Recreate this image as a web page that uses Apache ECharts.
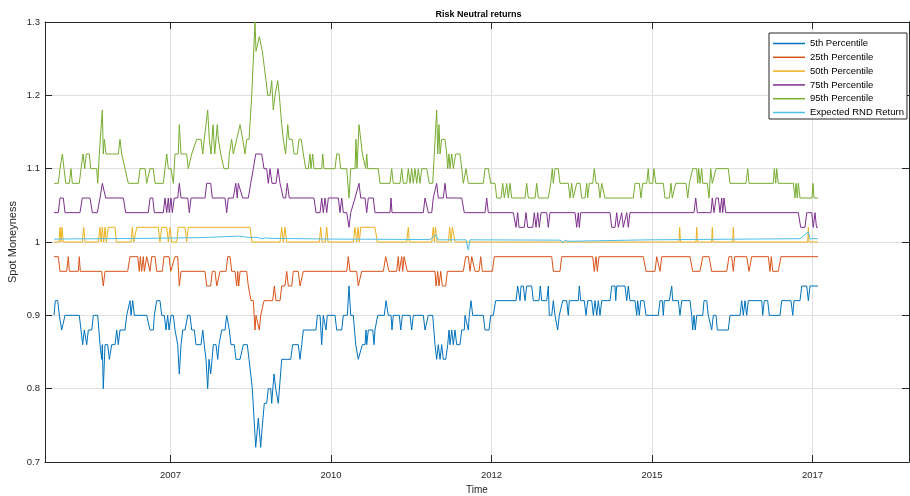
<!DOCTYPE html>
<html><head><meta charset="utf-8">
<script src="https://cdn.jsdelivr.net/npm/echarts@6/dist/echarts.min.js"></script>
<style>html,body{margin:0;padding:0;background:#fff}#c{width:910px;height:496px}</style>
</head><body><div id="c"></div>
<script>
// ---- data (time in decimal years, values = spot moneyness) ----
const xTickValues = [2007.5, 2010, 2012.5, 2015, 2017.5];
const xTickLabels = ['2007', '2010', '2012', '2015', '2017'];
const seriesNames = ['5th Percentile', '25th Percentile', '50th Percentile', '75th Percentile', '95th Percentile', 'Expected RND Return'];

const p95 = [[2005.685,1.08],[2005.752,1.08],[2005.779,1.10],[2005.815,1.12],[2005.841,1.10],[2005.868,1.08],[2005.924,1.08],[2005.950,1.10],[2005.970,1.08],[2006.079,1.08],[2006.106,1.10],[2006.137,1.12],[2006.164,1.10],[2006.188,1.12],[2006.235,1.12],[2006.257,1.10],[2006.350,1.10],[2006.366,1.08],[2006.391,1.12],[2006.438,1.18],[2006.453,1.12],[2006.469,1.14],[2006.495,1.12],[2006.687,1.12],[2006.713,1.14],[2006.740,1.12],[2006.791,1.10],[2006.843,1.08],[2006.998,1.08],[2007.025,1.10],[2007.103,1.10],[2007.129,1.08],[2007.154,1.08],[2007.181,1.10],[2007.232,1.10],[2007.259,1.08],[2007.388,1.08],[2007.414,1.10],[2007.441,1.12],[2007.466,1.10],[2007.508,1.10],[2007.544,1.08],[2007.570,1.12],[2007.621,1.12],[2007.637,1.16],[2007.664,1.12],[2007.752,1.12],[2007.777,1.10],[2007.804,1.10],[2007.830,1.12],[2007.908,1.14],[2007.975,1.14],[2008.002,1.12],[2008.026,1.14],[2008.079,1.18],[2008.104,1.14],[2008.131,1.12],[2008.162,1.16],[2008.188,1.12],[2008.229,1.16],[2008.245,1.14],[2008.282,1.12],[2008.333,1.10],[2008.400,1.10],[2008.416,1.12],[2008.453,1.14],[2008.478,1.12],[2008.531,1.14],[2008.583,1.16],[2008.625,1.14],[2008.660,1.12],[2008.687,1.14],[2008.723,1.14],[2008.765,1.20],[2008.816,1.30],[2008.832,1.26],[2008.858,1.26],[2008.883,1.28],[2008.910,1.28],[2008.930,1.26],[2008.956,1.26],[2008.988,1.22],[2009.014,1.20],[2009.050,1.20],[2009.076,1.22],[2009.101,1.18],[2009.128,1.20],[2009.170,1.22],[2009.195,1.20],[2009.232,1.16],[2009.257,1.14],[2009.294,1.12],[2009.326,1.16],[2009.346,1.14],[2009.397,1.14],[2009.424,1.12],[2009.475,1.12],[2009.502,1.14],[2009.537,1.14],[2009.569,1.12],[2009.606,1.10],[2009.646,1.10],[2009.673,1.12],[2009.688,1.10],[2009.715,1.12],[2009.735,1.10],[2009.855,1.10],[2009.871,1.12],[2009.891,1.10],[2010.062,1.10],[2010.089,1.12],[2010.125,1.12],[2010.151,1.10],[2010.245,1.10],[2010.280,1.06],[2010.307,1.10],[2010.374,1.10],[2010.389,1.14],[2010.405,1.10],[2010.436,1.16],[2010.463,1.14],[2010.488,1.12],[2010.519,1.12],[2010.540,1.10],[2010.556,1.12],[2010.572,1.10],[2010.737,1.10],[2010.763,1.08],[2010.919,1.08],[2010.945,1.10],[2010.970,1.08],[2011.075,1.08],[2011.101,1.10],[2011.126,1.08],[2011.179,1.08],[2011.204,1.10],[2011.231,1.08],[2011.257,1.10],[2011.282,1.08],[2011.308,1.10],[2011.335,1.08],[2011.360,1.10],[2011.386,1.08],[2011.413,1.10],[2011.491,1.10],[2011.531,1.08],[2011.584,1.08],[2011.609,1.12],[2011.620,1.12],[2011.646,1.18],[2011.662,1.12],[2011.682,1.16],[2011.698,1.12],[2011.724,1.14],[2011.776,1.14],[2011.802,1.12],[2011.818,1.10],[2011.838,1.12],[2011.854,1.10],[2011.880,1.12],[2011.905,1.10],[2011.942,1.12],[2012.009,1.12],[2012.036,1.10],[2012.061,1.08],[2012.103,1.10],[2012.139,1.08],[2012.372,1.08],[2012.399,1.10],[2012.450,1.10],[2012.488,1.08],[2012.555,1.08],[2012.581,1.06],[2012.648,1.06],[2012.674,1.08],[2012.699,1.06],[2012.737,1.08],[2012.762,1.06],[2012.788,1.08],[2012.815,1.06],[2013.022,1.06],[2013.048,1.08],[2013.073,1.06],[2013.178,1.06],[2013.204,1.08],[2013.229,1.06],[2013.385,1.06],[2013.422,1.08],[2013.447,1.10],[2013.463,1.08],[2013.489,1.10],[2013.540,1.10],[2013.567,1.08],[2013.696,1.08],[2013.723,1.06],[2013.749,1.08],[2013.774,1.06],[2013.801,1.06],[2013.827,1.08],[2013.879,1.08],[2013.905,1.06],[2013.956,1.06],[2013.983,1.08],[2013.998,1.06],[2014.023,1.08],[2014.076,1.08],[2014.101,1.10],[2014.128,1.08],[2014.164,1.08],[2014.190,1.06],[2014.217,1.08],[2014.241,1.08],[2014.268,1.06],[2014.709,1.06],[2014.735,1.08],[2014.802,1.08],[2014.829,1.06],[2014.855,1.08],[2014.917,1.08],[2014.942,1.10],[2014.958,1.08],[2015.011,1.08],[2015.031,1.10],[2015.058,1.08],[2015.176,1.08],[2015.202,1.06],[2015.269,1.06],[2015.296,1.08],[2015.316,1.06],[2015.347,1.06],[2015.369,1.08],[2015.530,1.08],[2015.556,1.06],[2015.581,1.08],[2015.607,1.08],[2015.634,1.10],[2015.696,1.10],[2015.712,1.08],[2015.727,1.10],[2015.748,1.08],[2015.774,1.10],[2015.790,1.08],[2015.861,1.08],[2015.888,1.06],[2015.914,1.10],[2015.939,1.08],[2015.970,1.08],[2015.997,1.10],[2016.188,1.10],[2016.215,1.08],[2016.464,1.08],[2016.491,1.10],[2016.511,1.08],[2016.889,1.08],[2016.905,1.10],[2016.927,1.08],[2016.942,1.10],[2016.967,1.08],[2017.201,1.08],[2017.227,1.06],[2017.243,1.08],[2017.263,1.06],[2017.279,1.08],[2017.305,1.06],[2017.492,1.06],[2017.508,1.08],[2017.523,1.06],[2017.586,1.06]];

const p75 = [[2005.685,1.04],[2005.752,1.04],[2005.779,1.06],[2005.830,1.06],[2005.857,1.04],[2006.090,1.04],[2006.126,1.06],[2006.246,1.06],[2006.282,1.04],[2006.360,1.04],[2006.402,1.06],[2006.438,1.08],[2006.464,1.08],[2006.491,1.06],[2006.765,1.06],[2006.802,1.04],[2007.154,1.04],[2007.181,1.06],[2007.223,1.06],[2007.248,1.04],[2007.388,1.04],[2007.414,1.06],[2007.441,1.04],[2007.466,1.06],[2007.481,1.04],[2007.508,1.06],[2007.528,1.04],[2007.559,1.06],[2007.612,1.06],[2007.637,1.08],[2007.664,1.06],[2007.768,1.06],[2007.793,1.04],[2007.819,1.06],[2008.037,1.06],[2008.064,1.08],[2008.126,1.08],[2008.151,1.06],[2008.349,1.06],[2008.375,1.04],[2008.400,1.06],[2008.478,1.06],[2008.516,1.08],[2008.540,1.06],[2008.556,1.08],[2008.583,1.08],[2008.625,1.06],[2008.712,1.06],[2008.749,1.08],[2008.790,1.10],[2008.827,1.12],[2008.921,1.12],[2008.956,1.10],[2008.998,1.10],[2009.023,1.08],[2009.050,1.10],[2009.081,1.08],[2009.143,1.08],[2009.174,1.10],[2009.206,1.08],[2009.257,1.06],[2009.294,1.06],[2009.319,1.08],[2009.350,1.06],[2009.735,1.06],[2009.766,1.04],[2009.829,1.04],[2009.855,1.06],[2009.880,1.04],[2009.907,1.06],[2009.933,1.04],[2009.958,1.06],[2010.114,1.06],[2010.140,1.04],[2010.167,1.06],[2010.192,1.04],[2010.245,1.04],[2010.280,1.02],[2010.307,1.04],[2010.374,1.06],[2010.436,1.08],[2010.463,1.06],[2010.530,1.06],[2010.556,1.04],[2010.581,1.06],[2010.659,1.06],[2010.685,1.04],[2010.919,1.04],[2010.935,1.06],[2010.950,1.04],[2011.438,1.04],[2011.464,1.06],[2011.491,1.06],[2011.516,1.04],[2011.569,1.04],[2011.593,1.06],[2011.620,1.06],[2011.646,1.08],[2011.671,1.06],[2011.749,1.06],[2011.776,1.08],[2011.802,1.06],[2012.036,1.06],[2012.076,1.04],[2012.399,1.04],[2012.425,1.06],[2012.450,1.04],[2012.840,1.04],[2012.882,1.02],[2012.908,1.04],[2012.928,1.02],[2013.011,1.02],[2013.037,1.04],[2013.064,1.02],[2013.142,1.02],[2013.167,1.04],[2013.193,1.02],[2013.220,1.04],[2013.245,1.02],[2013.271,1.04],[2013.360,1.04],[2013.385,1.02],[2013.411,1.04],[2013.801,1.04],[2013.827,1.02],[2013.852,1.04],[2013.868,1.02],[2013.889,1.04],[2014.346,1.04],[2014.372,1.02],[2014.424,1.02],[2014.450,1.04],[2014.475,1.02],[2014.502,1.02],[2014.528,1.04],[2014.553,1.02],[2014.606,1.04],[2014.631,1.02],[2014.657,1.04],[2015.654,1.04],[2015.681,1.06],[2015.706,1.04],[2015.919,1.04],[2015.939,1.06],[2015.966,1.04],[2015.997,1.06],[2016.033,1.06],[2016.059,1.04],[2016.086,1.06],[2016.101,1.04],[2016.121,1.06],[2016.148,1.04],[2017.279,1.04],[2017.316,1.02],[2017.383,1.02],[2017.410,1.04],[2017.488,1.04],[2017.512,1.02],[2017.539,1.04],[2017.562,1.02],[2017.586,1.02]];

const p50 = [[2005.685,1.00],[2005.763,1.00],[2005.779,1.02],[2005.794,1.00],[2005.810,1.02],[2005.830,1.00],[2006.126,1.00],[2006.148,1.02],[2006.168,1.00],[2006.375,1.00],[2006.402,1.02],[2006.417,1.00],[2006.438,1.02],[2006.460,1.00],[2006.480,1.02],[2006.500,1.00],[2006.531,1.02],[2006.636,1.02],[2006.656,1.00],[2006.885,1.00],[2006.905,1.02],[2006.927,1.00],[2006.947,1.00],[2006.974,1.02],[2007.310,1.02],[2007.336,1.00],[2007.363,1.02],[2007.441,1.02],[2007.466,1.00],[2007.492,1.02],[2007.519,1.00],[2007.597,1.00],[2007.621,1.02],[2007.726,1.02],[2007.752,1.00],[2007.777,1.02],[2008.738,1.02],[2008.769,1.00],[2009.206,1.00],[2009.232,1.02],[2009.257,1.00],[2009.283,1.02],[2009.310,1.00],[2009.818,1.00],[2009.840,1.02],[2009.860,1.00],[2009.911,1.00],[2009.933,1.02],[2009.953,1.00],[2010.347,1.00],[2010.374,1.02],[2010.400,1.00],[2010.421,1.02],[2010.441,1.00],[2010.463,1.02],[2010.685,1.02],[2010.721,1.00],[2011.179,1.00],[2011.204,1.02],[2011.220,1.00],[2011.569,1.00],[2011.593,1.02],[2011.609,1.00],[2011.628,1.02],[2011.651,1.00],[2011.827,1.00],[2011.849,1.02],[2011.869,1.00],[2011.889,1.02],[2011.916,1.02],[2011.936,1.00],[2015.421,1.00],[2015.431,1.02],[2015.444,1.00],[2015.685,1.00],[2015.696,1.02],[2015.709,1.00],[2015.930,1.00],[2015.939,1.02],[2015.950,1.00],[2016.257,1.00],[2016.266,1.02],[2016.277,1.00],[2017.425,1.00],[2017.435,1.02],[2017.445,1.00],[2017.586,1.00]];

const p25 = [[2005.685,0.98],[2005.752,0.98],[2005.779,0.96],[2005.883,0.96],[2005.908,0.98],[2005.924,0.96],[2006.064,0.96],[2006.079,0.98],[2006.095,0.96],[2006.428,0.96],[2006.453,0.94],[2006.480,0.96],[2006.833,0.96],[2006.869,0.98],[2006.989,0.98],[2007.014,0.96],[2007.030,0.98],[2007.051,0.96],[2007.076,0.98],[2007.092,0.96],[2007.129,0.98],[2007.154,0.98],[2007.181,0.96],[2007.207,0.98],[2007.259,0.98],[2007.285,0.96],[2007.372,0.96],[2007.399,0.98],[2007.477,0.98],[2007.503,0.96],[2007.528,0.96],[2007.570,0.98],[2007.612,0.98],[2007.637,0.94],[2007.664,0.96],[2008.037,0.96],[2008.064,0.94],[2008.126,0.94],[2008.151,0.96],[2008.193,0.96],[2008.220,0.94],[2008.245,0.94],[2008.271,0.96],[2008.364,0.96],[2008.391,0.98],[2008.427,0.98],[2008.453,0.96],[2008.505,0.96],[2008.531,0.94],[2008.547,0.96],[2008.562,0.94],[2008.583,0.96],[2008.687,0.96],[2008.712,0.94],[2008.754,0.92],[2008.790,0.92],[2008.816,0.88],[2008.832,0.90],[2008.858,0.90],[2008.883,0.88],[2008.905,0.90],[2008.930,0.90],[2008.956,0.92],[2009.092,0.92],[2009.117,0.94],[2009.143,0.92],[2009.206,0.92],[2009.232,0.94],[2009.283,0.94],[2009.310,0.96],[2009.335,0.94],[2009.388,0.94],[2009.413,0.96],[2009.491,0.96],[2009.517,0.94],[2009.544,0.94],[2009.569,0.96],[2010.245,0.96],[2010.269,0.98],[2010.296,0.96],[2010.400,0.96],[2010.425,0.94],[2010.452,0.94],[2010.478,0.96],[2010.815,0.96],[2010.852,0.98],[2010.877,0.98],[2010.903,0.96],[2011.023,0.96],[2011.048,0.98],[2011.064,0.96],[2011.101,0.98],[2011.117,0.96],[2011.137,0.98],[2011.164,0.98],[2011.188,0.96],[2011.620,0.96],[2011.636,0.94],[2011.662,0.96],[2011.682,0.94],[2011.709,0.96],[2011.734,0.94],[2011.787,0.94],[2011.812,0.96],[2012.061,0.96],[2012.098,0.98],[2012.139,0.98],[2012.165,0.96],[2012.192,0.98],[2012.217,0.98],[2012.243,0.96],[2012.305,0.96],[2012.332,0.98],[2012.357,0.96],[2012.512,0.96],[2012.544,0.98],[2013.438,0.98],[2013.463,0.96],[2013.567,0.96],[2013.593,0.98],[2014.076,0.98],[2014.101,0.96],[2014.128,0.98],[2014.148,0.96],[2014.174,0.98],[2014.864,0.98],[2014.907,0.96],[2015.047,0.96],[2015.073,0.98],[2015.098,0.98],[2015.125,0.96],[2015.151,0.98],[2015.592,0.98],[2015.634,0.96],[2015.748,0.96],[2015.790,0.98],[2015.888,0.98],[2015.930,0.96],[2016.164,0.96],[2016.199,0.98],[2016.241,0.98],[2016.266,0.96],[2016.288,0.98],[2016.475,0.98],[2016.511,0.96],[2016.553,0.98],[2016.812,0.98],[2016.838,0.96],[2016.858,0.98],[2016.880,0.96],[2016.967,0.96],[2017.009,0.98],[2017.586,0.98]];

const p5 = [[2005.685,0.90],[2005.706,0.92],[2005.743,0.92],[2005.768,0.90],[2005.805,0.88],[2005.830,0.88],[2005.857,0.90],[2006.079,0.90],[2006.106,0.88],[2006.132,0.86],[2006.157,0.88],[2006.195,0.86],[2006.220,0.88],[2006.273,0.88],[2006.298,0.90],[2006.366,0.90],[2006.402,0.86],[2006.428,0.84],[2006.438,0.86],[2006.453,0.80],[2006.480,0.86],[2006.522,0.86],[2006.547,0.84],[2006.584,0.86],[2006.636,0.86],[2006.662,0.88],[2006.687,0.86],[2006.713,0.88],[2006.791,0.88],[2006.818,0.90],[2006.869,0.92],[2006.885,0.90],[2006.911,0.92],[2006.936,0.90],[2007.129,0.90],[2007.181,0.88],[2007.232,0.88],[2007.248,0.90],[2007.285,0.92],[2007.336,0.92],[2007.363,0.90],[2007.403,0.90],[2007.430,0.88],[2007.456,0.90],[2007.477,0.88],[2007.508,0.90],[2007.544,0.90],[2007.570,0.88],[2007.612,0.86],[2007.637,0.82],[2007.664,0.86],[2007.690,0.88],[2007.726,0.88],[2007.768,0.90],[2007.804,0.90],[2007.830,0.88],[2007.871,0.88],[2007.897,0.86],[2007.975,0.86],[2008.002,0.88],[2008.026,0.86],[2008.053,0.84],[2008.079,0.80],[2008.100,0.84],[2008.126,0.82],[2008.167,0.86],[2008.209,0.86],[2008.235,0.84],[2008.255,0.86],[2008.298,0.88],[2008.349,0.88],[2008.375,0.90],[2008.400,0.90],[2008.416,0.88],[2008.442,0.86],[2008.494,0.86],[2008.520,0.84],[2008.583,0.84],[2008.634,0.86],[2008.696,0.86],[2008.723,0.84],[2008.774,0.80],[2008.790,0.80],[2008.827,0.72],[2008.868,0.76],[2008.905,0.72],[2008.921,0.74],[2008.936,0.74],[2008.961,0.78],[2008.998,0.78],[2009.023,0.80],[2009.061,0.80],[2009.076,0.78],[2009.112,0.82],[2009.139,0.80],[2009.179,0.78],[2009.195,0.78],[2009.232,0.84],[2009.372,0.84],[2009.403,0.86],[2009.491,0.86],[2009.517,0.84],[2009.544,0.86],[2009.569,0.88],[2009.766,0.88],[2009.787,0.90],[2009.829,0.90],[2009.855,0.86],[2009.880,0.90],[2009.922,0.88],[2009.942,0.90],[2010.062,0.90],[2010.089,0.88],[2010.167,0.88],[2010.192,0.90],[2010.254,0.90],[2010.280,0.94],[2010.307,0.90],[2010.347,0.90],[2010.385,0.86],[2010.425,0.84],[2010.452,0.84],[2010.488,0.86],[2010.530,0.86],[2010.545,0.88],[2010.556,0.86],[2010.581,0.88],[2010.650,0.88],[2010.670,0.86],[2010.685,0.88],[2010.701,0.88],[2010.727,0.90],[2010.830,0.90],[2010.857,0.92],[2010.893,0.90],[2010.935,0.90],[2010.950,0.88],[2010.970,0.90],[2011.064,0.90],[2011.086,0.88],[2011.111,0.90],[2011.231,0.90],[2011.257,0.88],[2011.282,0.90],[2011.438,0.90],[2011.464,0.88],[2011.491,0.88],[2011.516,0.90],[2011.584,0.90],[2011.620,0.86],[2011.646,0.84],[2011.671,0.86],[2011.698,0.84],[2011.724,0.86],[2011.749,0.84],[2011.787,0.84],[2011.818,0.86],[2011.838,0.88],[2011.854,0.86],[2011.880,0.88],[2011.905,0.86],[2011.931,0.88],[2011.958,0.86],[2012.009,0.86],[2012.036,0.88],[2012.076,0.88],[2012.087,0.90],[2012.114,0.90],[2012.139,0.88],[2012.154,0.90],[2012.181,0.92],[2012.207,0.90],[2012.372,0.90],[2012.399,0.88],[2012.461,0.88],[2012.488,0.90],[2012.528,0.90],[2012.565,0.92],[2012.882,0.92],[2012.908,0.94],[2012.944,0.92],[2012.960,0.94],[2012.995,0.94],[2013.022,0.92],[2013.048,0.94],[2013.126,0.94],[2013.151,0.92],[2013.240,0.92],[2013.260,0.94],[2013.282,0.92],[2013.360,0.92],[2013.385,0.94],[2013.400,0.90],[2013.438,0.90],[2013.463,0.92],[2013.489,0.90],[2013.516,0.90],[2013.531,0.88],[2013.556,0.90],[2013.583,0.90],[2013.609,0.92],[2013.671,0.92],[2013.696,0.90],[2013.712,0.92],[2013.852,0.92],[2013.868,0.94],[2013.889,0.92],[2013.945,0.92],[2013.972,0.90],[2013.998,0.92],[2014.061,0.92],[2014.086,0.90],[2014.112,0.92],[2014.139,0.90],[2014.164,0.92],[2014.190,0.90],[2014.217,0.92],[2014.346,0.92],[2014.372,0.94],[2014.424,0.94],[2014.435,0.92],[2014.450,0.94],[2014.579,0.94],[2014.606,0.92],[2014.631,0.94],[2014.657,0.92],[2014.735,0.92],[2014.762,0.90],[2014.777,0.92],[2014.802,0.90],[2014.824,0.92],[2014.875,0.92],[2014.907,0.90],[2015.098,0.90],[2015.125,0.92],[2015.160,0.92],[2015.176,0.90],[2015.192,0.92],[2015.269,0.92],[2015.307,0.94],[2015.322,0.92],[2015.410,0.92],[2015.436,0.90],[2015.463,0.92],[2015.592,0.92],[2015.618,0.90],[2015.634,0.88],[2015.654,0.90],[2015.674,0.88],[2015.696,0.90],[2015.790,0.90],[2015.810,0.92],[2015.852,0.92],[2015.877,0.90],[2015.903,0.90],[2015.930,0.88],[2015.955,0.90],[2015.997,0.90],[2016.017,0.88],[2016.188,0.88],[2016.215,0.90],[2016.371,0.90],[2016.397,0.92],[2016.422,0.90],[2016.449,0.92],[2016.475,0.90],[2016.500,0.92],[2016.709,0.92],[2016.724,0.90],[2016.749,0.92],[2016.802,0.92],[2016.827,0.90],[2016.994,0.90],[2017.020,0.92],[2017.165,0.92],[2017.192,0.90],[2017.212,0.92],[2017.305,0.92],[2017.332,0.94],[2017.410,0.94],[2017.435,0.92],[2017.461,0.94],[2017.586,0.94]];

const expRND = [[2005.685,1.004],[2006.402,1.0045],[2007.181,1.005],[2007.960,1.006],[2008.583,1.008],[2008.660,1.007],[2008.738,1.006],[2008.785,1.0065],[2008.816,1.005],[2008.863,1.006],[2008.925,1.0045],[2008.972,1.0055],[2009.050,1.005],[2009.362,1.0047],[2009.984,1.004],[2010.763,1.0037],[2011.542,1.0033],[2011.636,1.010],[2011.667,1.003],[2012.103,1.003],[2012.139,0.989],[2012.165,1.003],[2013.567,1.0025],[2013.618,0.9995],[2013.645,1.0025],[2013.692,1.001],[2013.723,1.0025],[2014.969,1.003],[2015.748,1.0035],[2016.526,1.004],[2017.305,1.0045],[2017.435,1.014],[2017.461,1.0045],[2017.586,1.0045]];

const seriesData = [p5, p25, p50, p75, p95, expRND];
const seriesColors = ['#0072BD', '#D95319', '#EDB120', '#7E2F8E', '#77AC30', '#4DBEEE'];

// ---- chart ----
const chart = echarts.init(document.getElementById('c'), null, {renderer: 'canvas', width: 910, height: 496});
const axisColor = '#262626';
const gridColor = '#dfdfdf';
const font = 'Liberation Sans, Arial, Helvetica, sans-serif';
const xMin = 2005.545, xMax = 2019.003;

const fmtY = v => String(Math.round(v * 10) / 10);
const fmtX = v => { const i = xTickValues.findIndex(t => Math.abs(t - v) < 1e-6); return i >= 0 ? xTickLabels[i] : ''; };

const option = {
  animation: false,
  backgroundColor: '#ffffff',
  textStyle: {fontFamily: font},
  title: {
    text: 'Risk Neutral returns', left: 473.5, top: 5, textAlign: 'center',
    textStyle: {fontSize: 9, fontWeight: 'bold', color: '#000', fontFamily: font}
  },
  legend: {
    orient: 'vertical', left: 769, top: 33,
    backgroundColor: '#fff', borderColor: axisColor, borderWidth: 1, borderRadius: 0,
    padding: [5, 3, 1, 4], itemWidth: 32, itemHeight: 1.5, itemGap: 2.8, icon: 'rect',
    textStyle: {fontSize: 9.5, lineHeight: 11, color: '#000', fontFamily: font},
    data: seriesNames
  },
  grid: {left: 45, right: 1, top: 22, bottom: 34, containLabel: false, outerBoundsMode: 'none'},
  xAxis: [{
    type: 'value', min: xMin, max: xMax, position: 'bottom',
    name: 'Time', nameLocation: 'middle', nameGap: 23.5, nameMoveOverlap: false,
    nameTextStyle: {fontSize: 10, color: axisColor, fontFamily: font},
    axisLine: {show: true, onZero: false, lineStyle: {color: axisColor, width: 1}},
    axisTick: {show: true, inside: true, length: 7, customValues: xTickValues, lineStyle: {color: axisColor}},
    axisLabel: {show: true, customValues: xTickValues, formatter: fmtX, color: axisColor, fontSize: 9.5, margin: 8, fontFamily: font},
    splitLine: {show: true, lineStyle: {color: gridColor, width: 1}}
  }, {
    type: 'value', min: xMin, max: xMax, position: 'top',
    axisLine: {show: true, onZero: false, lineStyle: {color: axisColor, width: 1}},
    axisTick: {show: true, inside: true, length: 7, customValues: xTickValues, lineStyle: {color: axisColor}},
    axisLabel: {show: false},
    splitLine: {show: false}
  }],
  yAxis: [{
    type: 'value', min: 0.7, max: 1.3, interval: 0.1, position: 'left',
    name: 'Spot Moneyness', nameLocation: 'middle', nameGap: 27, nameMoveOverlap: false,
    nameTextStyle: {fontSize: 11, color: axisColor, fontFamily: font},
    axisLine: {show: true, onZero: false, lineStyle: {color: axisColor, width: 1}},
    axisTick: {show: true, inside: true, length: 7, lineStyle: {color: axisColor}},
    axisLabel: {formatter: fmtY, color: axisColor, fontSize: 9.5, margin: 5, fontFamily: font},
    splitLine: {show: true, lineStyle: {color: gridColor, width: 1}}
  }, {
    type: 'value', min: 0.7, max: 1.3, interval: 0.1, position: 'right',
    axisLine: {show: true, onZero: false, lineStyle: {color: axisColor, width: 1}},
    axisTick: {show: true, inside: true, length: 7, lineStyle: {color: axisColor}},
    axisLabel: {show: false},
    splitLine: {show: false}
  }],
  series: seriesNames.map((name, i) => ({
    name: name, type: 'line', xAxisIndex: 0, yAxisIndex: 0,
    data: seriesData[i], showSymbol: false, symbol: 'none',
    lineStyle: {color: seriesColors[i], width: 1},
    itemStyle: {color: seriesColors[i]},
    emphasis: {disabled: true}, z: 2 + i
  }))
};
chart.setOption(option);
</script>
</body></html>
